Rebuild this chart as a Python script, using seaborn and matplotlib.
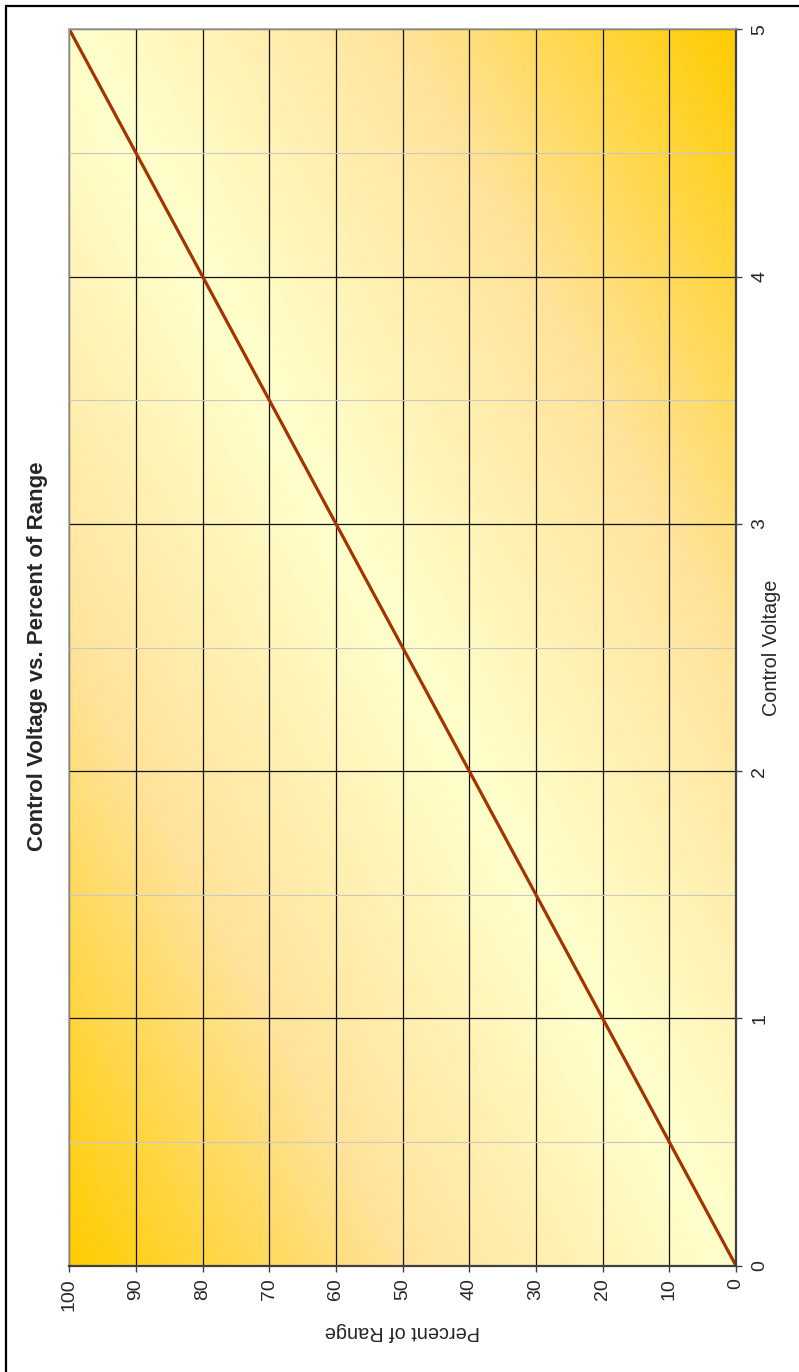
import numpy as np
import pandas as pd
import seaborn as sns
import matplotlib.pyplot as plt
from matplotlib.colors import LinearSegmentedColormap
from matplotlib.patches import Rectangle
from matplotlib.ticker import MultipleLocator

sns.set_style("white")
plt.rcParams['font.family'] = ['Liberation Sans', 'DejaVu Sans']

voltage = [0, 1, 2, 3, 4, 5]
percent = [0, 20, 40, 60, 80, 100]
percent_ticks = [0, 10, 20, 30, 40, 50, 60, 70, 80, 90, 100]
voltage_ticks = [0, 1, 2, 3, 4, 5]

df = pd.DataFrame({"Percent of Range": percent, "Control Voltage": voltage})

fig = plt.figure(figsize=(7.99, 13.72), dpi=100)
ax = fig.add_axes([69.3 / 799, 1 - 1265.7 / 1372, 666.7 / 799, 1236.4 / 1372])

# background: diagonal gradient, gold in two corners, pale along the diagonal
grad = np.linspace(0, 1, 400)
gx, gy = np.meshgrid(grad, grad)
t = np.abs((gx + gy) / 2 - 0.5) * 2
cmap = LinearSegmentedColormap.from_list("bg", ["#FFFFCC", "#FFE39A", "#FFCC00"])
ax.imshow(t, cmap=cmap, extent=[0, 1, 0, 1], origin="lower", transform=ax.transAxes,
          aspect="auto", zorder=0, interpolation="bilinear", vmin=0, vmax=1)

sns.lineplot(data=df, x="Percent of Range", y="Control Voltage", color="#A33300",
             linewidth=2.3, ax=ax, zorder=5)

ax.set_xlim(100, 0)
ax.set_ylim(0, 5)
ax.set_xticks(percent_ticks)
ax.set_yticks(voltage_ticks)
ax.yaxis.set_minor_locator(MultipleLocator(0.5))
ax.yaxis.tick_right()
ax.yaxis.set_label_position("right")

ax.grid(True, which="major", axis="both", color="#111111", linewidth=0.9, zorder=1)
ax.grid(True, which="minor", axis="y", color="#C8C8C8", linewidth=0.8, zorder=1)
ax.set_axisbelow(False)
for ln in ax.get_xgridlines() + ax.get_ygridlines():
    ln.set_zorder(1)

ax.tick_params(axis="x", which="major", direction="out", length=4, width=1, color="#404040",
               bottom=True, labelsize=14, labelrotation=90, pad=5)
ax.tick_params(axis="y", which="major", direction="out", length=4, width=1, color="#404040",
               right=True, left=False, labelsize=14, labelrotation=90, pad=7)
ax.tick_params(axis="y", which="minor", length=0)
for lab in ax.get_yticklabels():
    lab.set_va("center")

for side in ["bottom", "right"]:
    ax.spines[side].set_color("#404040")
    ax.spines[side].set_linewidth(1.6)
for side in ["top", "left"]:
    ax.spines[side].set_color("#A0A0A0")
    ax.spines[side].set_linewidth(1.2)
for sp in ax.spines.values():
    sp.set_zorder(6)

ax.set_xlabel("Percent of Range", fontsize=14.3, rotation=180, va="center")
ax.xaxis.set_label_coords(0.5, (1265.7 - 1332) / 1236.4)
ax.set_ylabel("Control Voltage", fontsize=14.3, rotation=90, va="center")
ax.yaxis.set_label_coords((772 - 69.3) / 666.7, 0.5)

fig.text(38 / 799, 1 - 656 / 1372, "Control Voltage vs. Percent of Range", rotation=90,
         fontsize=16, fontweight="bold", ha="center", va="center")

fig.patches.append(Rectangle((6 / 799, -0.05), 1.1, 1 - 6 / 1372 + 0.05,
                             transform=fig.transFigure, fill=False, edgecolor="black",
                             linewidth=1.6, zorder=10))

plt.savefig("out.png", dpi=100)
